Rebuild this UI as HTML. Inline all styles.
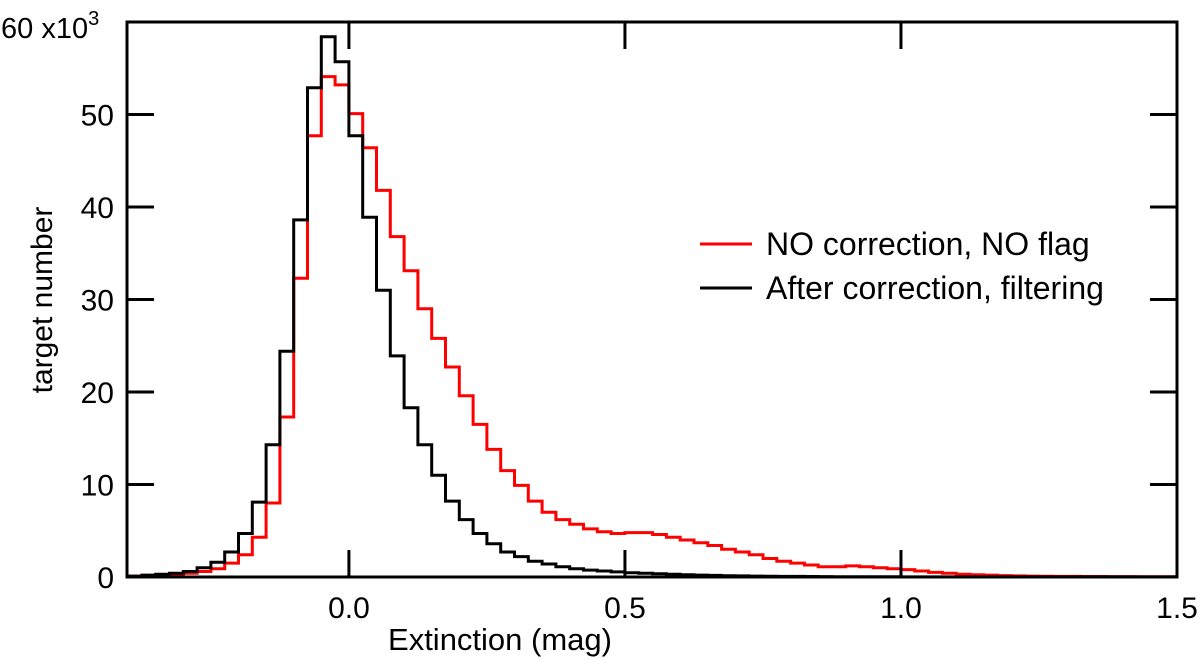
<!DOCTYPE html>
<html><head><meta charset="utf-8"><style>
html,body{margin:0;padding:0;background:#fff;}
svg{display:block;font-family:"Liberation Sans",sans-serif;}
</style></head><body>
<svg id="chart" width="1200" height="660" viewBox="0 0 1200 660" xmlns="http://www.w3.org/2000/svg">
<g id="plot"></g>
<g id="axes"></g>
<text x="1" y="38" font-size="29">60 x10<tspan dy="-13" font-size="20">3</tspan></text>
<text x="500" y="650" font-size="31" text-anchor="middle">Extinction (mag)</text>
<text transform="translate(52,300) rotate(-90)" font-size="30" text-anchor="middle">target number</text>
<g>
<line x1="700" y1="244" x2="752" y2="244" stroke="#ff0000" stroke-width="3"/>
<text x="766" y="255" font-size="32">NO correction, NO flag</text>
<line x1="700" y1="288" x2="752" y2="288" stroke="#000" stroke-width="3"/>
<text x="766" y="299" font-size="32">After correction, filtering</text>
</g>
</svg>
<script>
const binStart = -0.4;
const binWidth = 0.025;
const redCounts = [0.1,0.15,0.2,0.3,0.4,0.6,0.9,1.5,2.4,4.3,8.0,17.3,32.3,47.7,54.1,53.2,
 50.1,46.4,41.8,36.8,33.1,29.0,25.8,22.7,19.6,16.5,13.8,11.5,9.9,8.2,7.0,6.2,5.7,5.2,4.9,4.7,
 4.8,4.8,4.6,4.3,4.0,3.7,3.4,3.0,2.7,2.4,2.0,1.7,1.5,1.3,1.1,1.1,1.2,1.1,1.0,0.9,
 0.8,0.65,0.5,0.4,0.3,0.25,0.2,0.15,0.12,0.1,0.08,0.07,0.06,0.05,0.05,0.04,0.04,0.03,0.03,0.03];
const blackCounts = [0.1,0.2,0.3,0.4,0.6,1.0,1.6,2.7,4.7,8.1,14.3,24.4,38.6,52.9,58.4,55.7,
 47.7,38.9,31.0,23.9,18.3,14.3,11.0,8.2,6.2,4.7,3.6,2.7,2.2,1.7,1.4,1.1,0.9,0.75,0.65,0.55,
 0.45,0.4,0.35,0.3,0.25,0.2,0.17,0.14,0.12,0.1,0.08,0.07,0.06,0.05,0.04,0.03,0.03,0.02,0.02,0.02,
 0.01,0.01,0.01,0.01,0.01,0.01,0.01,0.01,0.01,0.01,0.01,0.01,0.01,0.01,0.01,0.01,0.01,0.01,0.01,0.01];
const xTicks = [0.0,0.5,1.0,1.5];
const xTickLabels = ["0.0","0.5","1.0","1.5"];
const yTicks = [0,10,20,30,40,50];
const yTickLabels = ["0","10","20","30","40","50"];

const X0=127, X1=1177, Y0=577, Y1=22;
const xMin=-0.402, xMax=1.5, yMin=0, yMax=60;
const sx = v => X0 + (v - xMin) / (xMax - xMin) * (X1 - X0);
const sy = v => Y0 - (v - yMin) / (yMax - yMin) * (Y0 - Y1);
const NS="http://www.w3.org/2000/svg";
const plot=document.getElementById('plot'), axes=document.getElementById('axes');
function mk(tag, parent){const e=document.createElementNS(NS,tag);parent.appendChild(e);return e;}

function stepPath(counts){
  let d='M'+sx(binStart)+','+sy(0);
  counts.forEach((c,i)=>{
    const a=binStart+i*binWidth, b=a+binWidth;
    d+=' L'+sx(a).toFixed(1)+','+sy(c).toFixed(1)+' L'+Math.min(sx(b),X1).toFixed(1)+','+sy(c).toFixed(1);
  });
  return d;
}
const pr=mk('path',plot);


pr.setAttribute('d',stepPath(redCounts));pr.setAttribute('fill','none');pr.setAttribute('stroke','#ff0000');pr.setAttribute('stroke-width','3');
const pb=mk('path',plot);


pb.setAttribute('d',stepPath(blackCounts));pb.setAttribute('fill','none');pb.setAttribute('stroke','#000');pb.setAttribute('stroke-width','3');

const fr=mk('rect',axes);


fr.setAttribute('x',X0);fr.setAttribute('y',Y1);fr.setAttribute('width',X1-X0);fr.setAttribute('height',Y0-Y1);
fr.setAttribute('fill','none');fr.setAttribute('stroke','#000');fr.setAttribute('stroke-width','3');

xTicks.forEach((v,i)=>{
  const x=sx(v);
  [[Y0,Y0-27],[Y1,Y1+27]].forEach(p=>{
    const l=mk('line',axes);
    
    
    l.setAttribute('x1',x);l.setAttribute('x2',x);l.setAttribute('y1',p[0]);l.setAttribute('y2',p[1]);
    l.setAttribute('stroke','#000');l.setAttribute('stroke-width','3');
  });
  const t=mk('text',axes);
  
  
  t.setAttribute('x',x);t.setAttribute('y',618);t.setAttribute('font-size','30');
  t.setAttribute('text-anchor','middle');t.textContent=xTickLabels[i];
});
yTicks.forEach((v,i)=>{
  const y=sy(v);
  [[X0,X0+27],[X1,X1-27]].forEach(p=>{
    const l=mk('line',axes);
    
    
    l.setAttribute('x1',p[0]);l.setAttribute('x2',p[1]);l.setAttribute('y1',y);l.setAttribute('y2',y);
    l.setAttribute('stroke','#000');l.setAttribute('stroke-width','3');
  });
  const t=mk('text',axes);
  
  
  t.setAttribute('x',114);t.setAttribute('y',y+11);t.setAttribute('font-size','30');
  t.setAttribute('text-anchor','end');t.textContent=yTickLabels[i];
});
</script>
</body></html>
